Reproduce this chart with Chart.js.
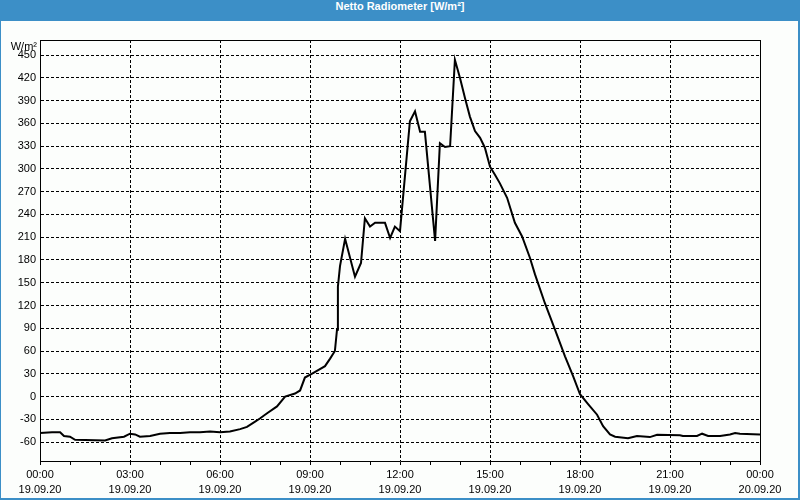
<!DOCTYPE html>
<html><head><meta charset="utf-8">
<script src="https://cdn.jsdelivr.net/npm/chart.js@4/dist/chart.umd.min.js"></script>
<style>
html,body{margin:0;padding:0;background:#3C8FC7;}
#frame{position:relative;width:800px;height:500px;background:#3C8FC7;overflow:hidden;}
#title{position:absolute;left:0;top:0;width:800px;height:21px;line-height:20px;text-align:center;color:#fff;font:bold 11px "Liberation Sans",Arial,sans-serif;}
#inner{position:absolute;left:1px;top:21px;width:797px;height:477px;background:#FCFEFC;}
#unit{position:absolute;left:0;top:19px;width:36px;height:12px;line-height:12px;text-align:right;font:11px "Liberation Sans",Arial,sans-serif;color:#000;}
canvas{display:block;}
</style>
</head><body>
<div id="frame">
  <div id="title">Netto Radiometer [W/m²]</div>
  <div id="inner">
    <canvas id="c" width="797" height="477"></canvas>
    <div id="unit">W/m²</div>
  </div>
</div>
<script>
// time in hours since 19.09.20 00:00
const hours = [0.0,0.4,0.67,0.8,1.0,1.17,2.17,2.4,2.8,3.0,3.17,3.33,3.67,4.0,4.33,4.67,5.0,5.33,5.67,6.0,6.33,6.67,6.9,7.17,7.33,7.57,7.9,8.17,8.5,8.67,8.83,9.1,9.5,9.67,9.83,9.9,9.93,10.0,10.17,10.5,10.7,10.83,11.0,11.17,11.5,11.67,11.83,12.0,12.33,12.5,12.67,12.83,13.17,13.33,13.5,13.67,13.83,14.0,14.17,14.33,14.5,14.67,14.83,15.0,15.17,15.33,15.57,15.83,16.07,16.33,16.5,16.83,17.17,17.5,17.77,18.0,18.27,18.57,18.77,19.0,19.17,19.6,19.9,20.33,20.57,21.33,21.43,21.9,22.07,22.27,22.67,23.0,23.17,23.33,24.0];
const values = [-48,-47,-47,-52,-53,-57,-58,-55,-53,-49,-50,-53,-52,-49,-48,-48,-47,-47,-46,-47,-46,-43,-40,-33,-29,-22,-13,0,4,8,25,31,40,50,60,88,145,172,208,158,176,235,224,229,229,209,224,218,363,376,349,349,205,334,329,330,444,420,393,369,350,341,328,303,292,281,262,229,211,183,161,123,88,53,27,3,-10,-24,-39,-50,-53,-55,-52,-53.5,-50.5,-51,-52,-52,-49,-52,-52,-50,-48,-49,-50];
const xLabelHours = [0,3,6,9,12,15,18,21,24];
const timeLabels = ['00:00','03:00','06:00','09:00','12:00','15:00','18:00','21:00','00:00'];
const dateLabels = ['19.09.20','19.09.20','19.09.20','19.09.20','19.09.20','19.09.20','19.09.20','19.09.20','20.09.20'];
const yTickValues = [-60,-30,0,30,60,90,120,150,180,210,240,270,300,330,360,390,420,450];

const points = hours.map((h, i) => ({x: h, y: values[i]}));
const FONT = {family: '"Liberation Sans", Arial, sans-serif', size: 11};

const framePlugin = {
  id: 'frame',
  afterDraw(chart) {
    const {ctx, chartArea: a} = chart;
    ctx.save();
    ctx.strokeStyle = '#000';
    ctx.lineWidth = 1;
    ctx.beginPath();
    const l = Math.round(a.left) + 0.5, r = Math.round(a.right) + 0.5, t = Math.round(a.top) + 0.5, b = Math.round(a.bottom) + 0.5;
    ctx.moveTo(l, t); ctx.lineTo(r, t); ctx.lineTo(r, b);
    ctx.stroke();
    ctx.restore();
  }
};

new Chart(document.getElementById('c'), {
  type: 'line',
  data: {
    datasets: [{
      data: points,
      borderColor: '#000',
      borderWidth: 2,
      pointRadius: 0,
      tension: 0,
      fill: false
    }]
  },
  options: {
    responsive: false,
    animation: false,
    parsing: true,
    layout: {padding: {top: 19, right: 38, left: 0, bottom: 0}},
    plugins: {legend: {display: false}, tooltip: {enabled: false}, title: {display: false}},
    scales: {
      x: {
        type: 'linear',
        min: 0, max: 24,
        afterFit(s) { s.height = 37; },
        afterBuildTicks(s) { s.ticks = Array.from({length: 25}, (_, i) => ({value: i})); },
        ticks: {
          stepSize: 1, autoSkip: false, maxRotation: 0, minRotation: 0,
          color: '#000', font: {...FONT, lineHeight: 1.35}, padding: 3,
          callback(v) {
            const i = xLabelHours.indexOf(v);
            return i >= 0 ? [timeLabels[i], dateLabels[i]] : '';
          }
        },
        grid: {
          color: (c) => (c.tick && xLabelHours.includes(c.tick.value)) ? '#000' : 'rgba(0,0,0,0)',
          tickColor: '#000', tickLength: 4, tickBorderDash: [], lineWidth: 1
        },
        border: {display: true, color: '#000', width: 1, dash: [3, 2]}
      },
      y: {
        type: 'linear',
        min: -85, max: 470,
        afterFit(s) { s.width = 39; },
        afterBuildTicks(s) { s.ticks = yTickValues.map(v => ({value: v})); },
        ticks: {autoSkip: false, color: '#000', font: FONT, padding: 4},
        grid: {color: '#000', drawTicks: false, lineWidth: 1},
        border: {display: true, color: '#000', width: 1, dash: [3, 2]}
      }
    }
  },
  plugins: [framePlugin]
});
</script>
</body></html>
